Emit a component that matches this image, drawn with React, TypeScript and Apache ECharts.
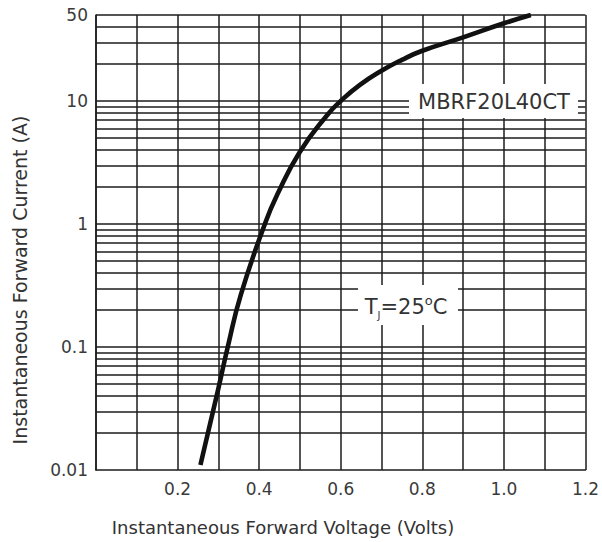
import React, { useEffect, useRef } from "react";
import * as echarts from "echarts";

// Forward characteristic (Volts, Amps)
const voltage = [0.256, 0.3, 0.323, 0.355, 0.414, 0.445, 0.5, 0.567, 0.6, 0.647, 0.7, 0.75, 0.8, 0.9, 1.0, 1.066];
const current = [0.011, 0.046, 0.1, 0.265, 1.0, 1.75, 3.87, 7.7, 10, 13.5, 17.6, 21.6, 25.6, 32.9, 42.8, 50];

// Horizontal grid lines of the log chart (decades and their sub-divisions)
const gridCurrents = [
  0.02, 0.03, 0.04, 0.05, 0.06, 0.07, 0.08, 0.09, 0.1,
  0.2, 0.3, 0.4, 0.5, 0.6, 0.7, 0.8, 0.9, 1,
  2, 3, 4, 5, 6, 7, 8, 9, 10,
  20, 30, 40, 50,
];
const xTickLabels = ["0.2", "0.4", "0.6", "0.8", "1.0", "1.2"];

const xTitle = "Instantaneous Forward Voltage (Volts)";
const yTitle = "Instantaneous Forward Current (A)";
const partLabel = "MBRF20L40CT";

const FONT = "DejaVu Sans";
const LINE = "#1c1c1c";

export default function App() {
  const ref = useRef<HTMLDivElement>(null);

  useEffect(() => {
    document.body.style.margin = "0";
    if (!ref.current) return;
    const chart = echarts.init(ref.current, null, { renderer: "svg", width: 602, height: 542 });
    const data = voltage.map((v, i) => [v, current[i]]);
    chart.setOption({
      animation: false,
      backgroundColor: "#ffffff",
      grid: { left: 96, top: 15, width: 492, height: 455, containLabel: false },
      xAxis: {
        type: "value",
        min: 0,
        max: 1.2,
        interval: 0.1,
        axisLine: { show: true, lineStyle: { color: LINE, width: 1.5 } },
        axisTick: { show: false },
        splitLine: { show: true, lineStyle: { color: LINE, width: 1.5 } },
        axisLabel: {
          color: "#3a3a3a",
          fontFamily: FONT,
          fontSize: 17,
          margin: 10,
          showMinLabel: true,
          showMaxLabel: true,
          formatter: (v: number) => {
            const s = v.toFixed(1);
            return xTickLabels.includes(s) ? s : "";
          },
        },
      },
      yAxis: {
        type: "log",
        logBase: 10,
        min: 0.01,
        max: 50,
        axisLine: { show: true, lineStyle: { color: LINE, width: 1.5 } },
        axisTick: { show: false },
        splitLine: { show: false },
        minorSplitLine: { show: false },
        axisLabel: {
          color: "#3a3a3a",
          fontFamily: FONT,
          fontSize: 17,
          margin: 8,
          showMinLabel: true,
          showMaxLabel: true,
          formatter: (v: number) => String(Number(Number(v).toPrecision(2))),
        },
      },
      series: [
        {
          type: "line",
          data,
          smooth: 0.5,
          showSymbol: false,
          symbol: "none",
          lineStyle: { color: "#111111", width: 4.6 },
          z: 5,
          markLine: {
            silent: true,
            symbol: ["none", "none"],
            label: { show: false },
            lineStyle: { color: LINE, width: 1.5, type: "solid" },
            data: gridCurrents.map((c) => ({ yAxis: c })),
            z: 1,
          },
        },
      ],
      graphic: [
        {
          type: "rect",
          z: 100,
          shape: { x: 409, y: 84, width: 169, height: 34 },
          style: { fill: "#ffffff" },
        },
        {
          type: "text",
          z: 101,
          x: 494,
          y: 102,
          style: {
            text: partLabel,
            fill: "#333333",
            fontFamily: FONT,
            fontSize: 21,
            align: "center",
            verticalAlign: "middle",
          },
        },
        {
          type: "rect",
          z: 100,
          shape: { x: 358, y: 285, width: 100, height: 40 },
          style: { fill: "#ffffff" },
        },
        {
          type: "text",
          z: 101,
          x: 406,
          y: 307,
          style: {
            text: "{t|T}{sub|J}{t|=25}{sup|o}{t|C}",
            align: "center",
            verticalAlign: "middle",
            rich: {
              t: { fontFamily: FONT, fontSize: 21, fill: "#333333", lineHeight: 26, verticalAlign: "middle" },
              sub: { fontFamily: FONT, fontSize: 10, fill: "#333333", lineHeight: 26, verticalAlign: "bottom" },
              sup: { fontFamily: FONT, fontSize: 13, fill: "#333333", lineHeight: 26, verticalAlign: "top" },
            },
          },
        },
        {
          type: "text",
          z: 101,
          x: 283,
          y: 527,
          style: {
            text: xTitle,
            fill: "#333333",
            fontFamily: FONT,
            fontSize: 18,
            align: "center",
            verticalAlign: "middle",
          },
        },
        {
          type: "text",
          z: 101,
          x: 20,
          y: 280,
          rotation: Math.PI / 2,
          style: {
            text: yTitle,
            fill: "#333333",
            fontFamily: FONT,
            fontSize: 19,
            align: "center",
            verticalAlign: "middle",
          },
        },
      ],
    });
    return () => chart.dispose();
  }, []);

  return <div ref={ref} style={{ width: 602, height: 542 }} />;
}
